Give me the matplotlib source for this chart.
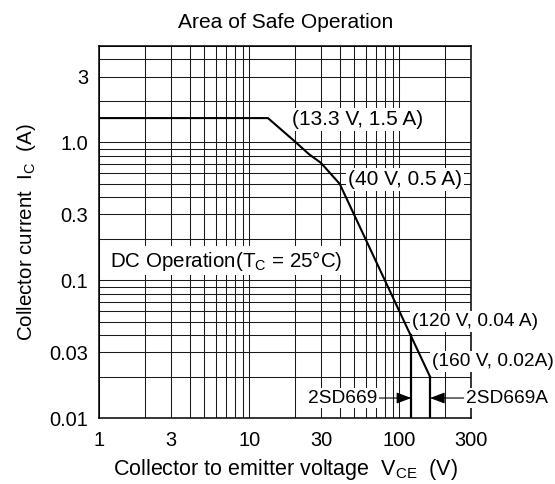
import matplotlib
matplotlib.use("Agg")
import matplotlib.pyplot as plt
from matplotlib.ticker import LogLocator, FixedLocator, FixedFormatter, NullFormatter

plt.rcParams['font.family'] = ['Liberation Sans', 'DejaVu Sans']
plt.rcParams['mathtext.fontset'] = 'custom'
plt.rcParams['mathtext.rm'] = 'Liberation Sans'
plt.rcParams['mathtext.it'] = 'Liberation Sans'
plt.rcParams['mathtext.default'] = 'regular'

# SOA boundary (DC operation)
soa_v = [1, 13.3, 20, 25, 30, 40, 160]
soa_i = [1.5, 1.5, 1.02, 0.82, 0.71, 0.5, 0.02]

# device voltage limits
limit_v = [120, 160]
limit_i_top = [0.04, 0.02]
limit_names = ["2SD669", "2SD669A"]

x_ticks = [1, 3, 10, 30, 100, 300]
x_tick_labels = ["1", "3", "10", "30", "100", "300"]
y_ticks = [0.01, 0.03, 0.1, 0.3, 1.0, 3]
y_tick_labels = ["0.01", "0.03", "0.1", "0.3", "1.0", "3"]

FS = 14.4

fig = plt.figure(figsize=(5.55, 4.84), dpi=100)
ax = fig.add_axes([0.179, 0.136, 0.6696, 0.769])

ax.set_xscale('log')
ax.set_yscale('log')
ax.set_xlim(1, 300)
ax.set_ylim(0.01, 5)

# full log grid
ax.xaxis.set_minor_locator(LogLocator(base=10, subs=range(1, 10)))
ax.yaxis.set_minor_locator(LogLocator(base=10, subs=range(1, 10)))
ax.xaxis.set_minor_formatter(NullFormatter())
ax.yaxis.set_minor_formatter(NullFormatter())
ax.grid(True, which='both', color='#1a1a1a', linewidth=0.75)
ax.set_axisbelow(True)

ax.xaxis.set_major_locator(FixedLocator(x_ticks))
ax.xaxis.set_major_formatter(FixedFormatter(x_tick_labels))
ax.yaxis.set_major_locator(FixedLocator(y_ticks))
ax.yaxis.set_major_formatter(FixedFormatter(y_tick_labels))
ax.tick_params(which='both', length=0, labelsize=FS)
ax.tick_params(axis='x', pad=9)
ax.tick_params(axis='y', pad=8)

for sp in ax.spines.values():
    sp.set_linewidth(1.1)
    sp.set_color('black')

ax.plot(soa_v, soa_i, color='black', linewidth=1.5, zorder=3)
for v, top in zip(limit_v, limit_i_top):
    ax.plot([v, v], [top, 0.01], color='black', linewidth=1.6, zorder=3)

box = dict(boxstyle='square,pad=0.1', fc='white', ec='none')
ax.text(19.2, 1.47, "(13.3 V, 1.5 A)", fontsize=15, ha='left', va='center', bbox=box, zorder=4)
ax.text(45.7, 0.535, "(40 V, 0.5 A)", fontsize=15, ha='left', va='center', bbox=box, zorder=4)
ax.text(1.18, 0.139, "DC Operation(T$_{C}$ = 25°C)", fontsize=14.8, ha='left', va='center',
        bbox=box, zorder=4)
ax.text(121, 0.0502, "(120 V, 0.04 A)", fontsize=13.8, ha='left', va='center', bbox=box,
        zorder=6, clip_on=False)
ax.text(164, 0.0257, "(160 V, 0.02A)", fontsize=13.8, ha='left', va='center', bbox=box,
        zorder=6, clip_on=False)

arrow = dict(arrowstyle='-|>,head_length=0.45,head_width=0.17', color='black',
             linewidth=0.8, mutation_scale=20, shrinkA=0, shrinkB=0)
ax.annotate(limit_names[0], xy=(limit_v[0], 0.014), xytext=(70.7, 0.014), fontsize=13.8,
            ha='right', va='center', bbox=box, arrowprops=arrow, zorder=5)
ax.annotate(limit_names[1], xy=(limit_v[1], 0.014), xytext=(278, 0.014), fontsize=13.8,
            ha='left', va='center', bbox=box, arrowprops=arrow, zorder=6,
            annotation_clip=False)

ax.set_title("Area of Safe Operation", fontsize=15.1, pad=13)
ax.set_xlabel("Collector to emitter voltage  V$_{CE}$  (V)", fontsize=15.5, labelpad=5)
ax.set_ylabel("Collector current  I$_{C}$  (A)", fontsize=14.8, labelpad=8)

fig.savefig("out.png", dpi=100)
